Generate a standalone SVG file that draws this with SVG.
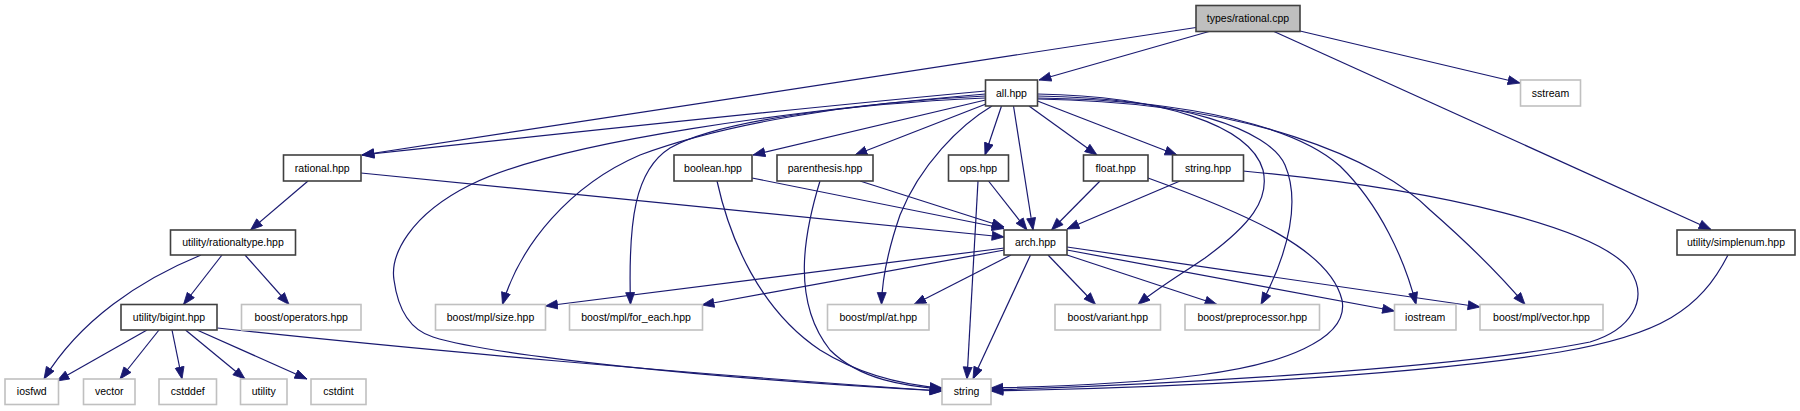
<svg xmlns="http://www.w3.org/2000/svg" width="1800" height="411" viewBox="0 0 1800 411">
<style>
.n rect{fill:#fff;stroke:#404040;stroke-width:1.6}
.x rect{fill:#fff;stroke:#c0c0c0;stroke-width:1.6}
.r rect{fill:#bfbfbf;stroke:#404040;stroke-width:1.6}
text{font-family:"Liberation Sans",Arial,sans-serif;font-size:10.5px;fill:#000;text-anchor:middle}
#edges path{fill:none;stroke:#191970;stroke-width:1.2;marker-end:url(#a)}
</style>
<defs>
<marker id="a" markerUnits="userSpaceOnUse" markerWidth="14" markerHeight="12" refX="12.5" refY="5" orient="auto">
<path d="M0.5,0.5 L12.5,5 L0.5,9.5 z" fill="#191970" stroke="#191970" stroke-width="0.8"/>
</marker>
</defs>
<rect width="1800" height="411" fill="#fff"/>
<g id="edges">
<path d="M1209,31.5 L1039,80"/>
<path d="M1196,27.5 L362,155"/>
<path d="M1300,31 L1520,83"/>
<path d="M1274,31.5 L1711,229.5"/>
<path d="M985.5,91 C800,108 520,138 362,155"/>
<path d="M985.5,100 L753,155"/>
<path d="M986,104 L855,155"/>
<path d="M1001.5,106 L985,155"/>
<path d="M1029,106 L1097,155"/>
<path d="M1037.5,101 L1177,155"/>
<path d="M1013.5,106 L1033,230"/>
<path d="M985.5,94 C800,110 560,140 470,185 C410,215 390,255 394,280 C398,310 410,330 433,337 C490,355 700,378 942,391"/>
<path d="M985.5,96 C850,102 720,125 640,155 C570,185 520,245 502.5,304.5"/>
<path d="M985.5,98 C850,104 720,120 670,148 C635,170 628,220 630.5,304.5"/>
<path d="M992,106 C960,125 920,165 900,215 C888,250 882,280 881.5,304.5"/>
<path d="M1037.5,94 C1160,96 1250,125 1263,170 C1270,200 1250,225 1205,258 C1180,275 1155,290 1138,304.5"/>
<path d="M1037.5,96 C1180,98 1270,130 1285,165 C1300,200 1290,250 1261,304.5"/>
<path d="M1037.5,98 C1200,100 1300,130 1340,166 C1380,205 1405,260 1416,304.5"/>
<path d="M1037.5,99 C1250,102 1380,160 1430,210 C1470,245 1500,275 1525,304.5"/>
<path d="M308,181 L250.5,230"/>
<path d="M361,173 L1004,237"/>
<path d="M752,178 L1004,228.5"/>
<path d="M717,181 C730,240 760,310 820,350 C860,375 905,385 942,388"/>
<path d="M820,181 C805,230 790,300 830,350 C860,380 905,386 942,389"/>
<path d="M860,181 L1004,227"/>
<path d="M978,181 L967,379"/>
<path d="M988.5,181 L1027,230"/>
<path d="M1100,181 L1051.5,230"/>
<path d="M1148,178 C1250,215 1330,250 1342,300 C1350,340 1280,365 1200,375 C1120,385 1040,387 991,388"/>
<path d="M1180,181 L1067,229"/>
<path d="M1243,171 C1450,190 1600,230 1630,270 C1650,300 1630,330 1590,342 C1450,370 1150,385 991,390"/>
<path d="M1728,255 C1700,310 1660,335 1560,352 C1400,378 1150,388 991,391"/>
<path d="M1004.5,248 L545.5,306"/>
<path d="M1004.5,250 L702,305"/>
<path d="M1011,255 L914,304.5"/>
<path d="M1030.5,255 L973,379"/>
<path d="M1048,255 L1095.5,304.5"/>
<path d="M1067,255 L1217,304.5"/>
<path d="M1067,250 L1394.5,311"/>
<path d="M1067,247 L1480,307"/>
<path d="M201,255 C140,280 80,320 44,379"/>
<path d="M222,255 L183.5,304.5"/>
<path d="M245,255 L289,304.5"/>
<path d="M147,330 L57,381"/>
<path d="M159,330 L120,379"/>
<path d="M172,330 L182,379"/>
<path d="M185.5,330 L245,379"/>
<path d="M197,330 L307,379"/>
<path d="M217.5,328 C400,348 700,375 942,391"/>
</g>
<g id="n_root" class="r"><rect x="1196" y="5.5" width="104" height="26"/><text x="1248" y="22">types/rational.cpp</text></g>
<g id="n_all" class="n"><rect x="985.5" y="80" width="52" height="26"/><text x="1011.5" y="96.5">all.hpp</text></g>
<g id="n_sstream" class="x"><rect x="1520.5" y="80" width="60" height="26"/><text x="1550.5" y="96.5">sstream</text></g>
<g id="n_rational" class="n"><rect x="283.5" y="155" width="77.5" height="26"/><text x="322.25" y="171.5">rational.hpp</text></g>
<g id="n_boolean" class="n"><rect x="674" y="155" width="78" height="26"/><text x="713" y="171.5">boolean.hpp</text></g>
<g id="n_paren" class="n"><rect x="777" y="155" width="96" height="26"/><text x="825" y="171.5">parenthesis.hpp</text></g>
<g id="n_ops" class="n"><rect x="948.5" y="155" width="60" height="26"/><text x="978.5" y="171.5">ops.hpp</text></g>
<g id="n_float" class="n"><rect x="1083.5" y="155" width="64.5" height="26"/><text x="1115.75" y="171.5">float.hpp</text></g>
<g id="n_stringhpp" class="n"><rect x="1172.5" y="155" width="71" height="26"/><text x="1208" y="171.5">string.hpp</text></g>
<g id="n_rationaltype" class="n"><rect x="170.5" y="230" width="125" height="25"/><text x="233" y="246">utility/rationaltype.hpp</text></g>
<g id="n_arch" class="n"><rect x="1004" y="230" width="63" height="25"/><text x="1035.5" y="246">arch.hpp</text></g>
<g id="n_simplenum" class="n"><rect x="1677" y="230" width="118" height="25"/><text x="1736" y="246">utility/simplenum.hpp</text></g>
<g id="n_bigint" class="n"><rect x="121" y="304.5" width="96" height="25.5"/><text x="169" y="320.5">utility/bigint.hpp</text></g>
<g id="n_operators" class="x"><rect x="241.5" y="304.5" width="119.5" height="25.5"/><text x="301.25" y="320.5">boost/operators.hpp</text></g>
<g id="n_size" class="x"><rect x="435.5" y="304.5" width="110" height="25.5"/><text x="490.5" y="320.5">boost/mpl/size.hpp</text></g>
<g id="n_foreach" class="x"><rect x="569.5" y="304.5" width="133" height="25.5"/><text x="636" y="320.5">boost/mpl/for_each.hpp</text></g>
<g id="n_at" class="x"><rect x="827.5" y="304.5" width="101.5" height="25.5"/><text x="878.25" y="320.5">boost/mpl/at.hpp</text></g>
<g id="n_variant" class="x"><rect x="1055" y="304.5" width="105.5" height="25.5"/><text x="1107.75" y="320.5">boost/variant.hpp</text></g>
<g id="n_preproc" class="x"><rect x="1185" y="304.5" width="134.5" height="25.5"/><text x="1252.25" y="320.5">boost/preprocessor.hpp</text></g>
<g id="n_iostream" class="x"><rect x="1394.5" y="304.5" width="61.5" height="25.5"/><text x="1425.25" y="320.5">iostream</text></g>
<g id="n_mplvector" class="x"><rect x="1480" y="304.5" width="123" height="25.5"/><text x="1541.5" y="320.5">boost/mpl/vector.hpp</text></g>
<g id="n_iosfwd" class="x"><rect x="5" y="379" width="53.5" height="25.5"/><text x="31.75" y="395">iosfwd</text></g>
<g id="n_vector" class="x"><rect x="83.5" y="379" width="51.5" height="25.5"/><text x="109.25" y="395">vector</text></g>
<g id="n_cstddef" class="x"><rect x="159" y="379" width="57.5" height="25.5"/><text x="187.75" y="395">cstddef</text></g>
<g id="n_utility" class="x"><rect x="240.5" y="379" width="46.5" height="25.5"/><text x="263.75" y="395">utility</text></g>
<g id="n_cstdint" class="x"><rect x="311" y="379" width="55" height="25.5"/><text x="338.5" y="395">cstdint</text></g>
<g id="n_string" class="x"><rect x="942" y="379" width="49" height="25.5"/><text x="966.5" y="395">string</text></g>
</svg>
